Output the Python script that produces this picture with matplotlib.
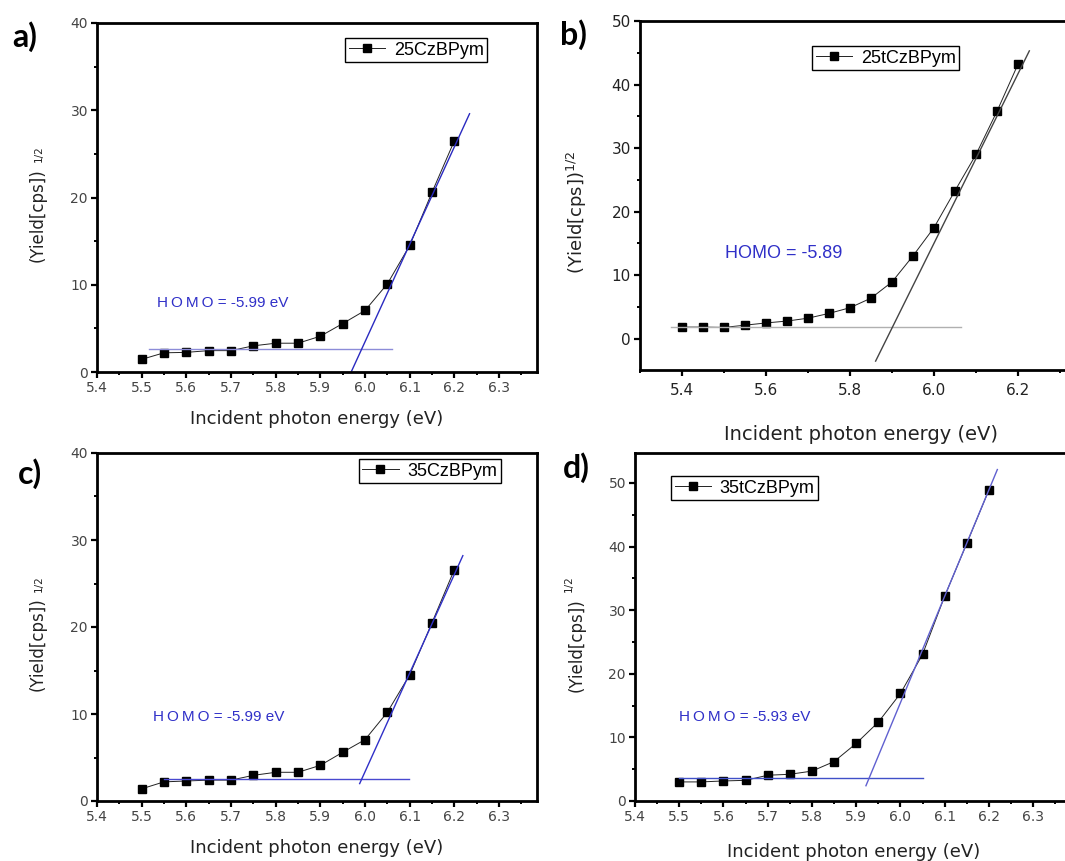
import matplotlib
matplotlib.use('Agg')
import matplotlib.pyplot as plt
from matplotlib.ticker import MultipleLocator, FormatStrFormatter

plt.rcParams['font.family'] = ['Liberation Sans', 'DejaVu Sans']
plt.rcParams['mathtext.fontset'] = 'dejavusans'

# photon energies (eV)
energy = [5.50, 5.55, 5.60, 5.65, 5.70, 5.75, 5.80, 5.85, 5.90, 5.95, 6.00, 6.05, 6.10, 6.15, 6.20]
energy_b = [5.40, 5.45, 5.50, 5.55, 5.60, 5.65, 5.70, 5.75, 5.80, 5.85, 5.90, 5.95, 6.00, 6.05, 6.10, 6.15, 6.20]

# (yield)^1/2 for each compound
yield_a = [1.45, 2.2, 2.25, 2.45, 2.45, 3.0, 3.3, 3.3, 4.1, 5.55, 7.05, 10.1, 14.5, 20.6, 26.5]
yield_b = [1.85, 1.85, 1.8, 2.15, 2.5, 2.8, 3.25, 4.0, 4.9, 6.4, 8.95, 13.05, 17.5, 23.3, 29.0, 35.8, 43.2]
yield_c = [1.4, 2.2, 2.3, 2.4, 2.4, 2.95, 3.3, 3.3, 4.1, 5.6, 7.05, 10.2, 14.5, 20.5, 26.6]
yield_d = [3.0, 3.0, 3.15, 3.25, 4.05, 4.2, 4.7, 6.2, 9.05, 12.4, 16.9, 23.05, 32.2, 40.5, 48.9]

names = ['25CzBPym', '25tCzBPym', '35CzBPym', '35tCzBPym']
homo_labels = ['H\u2009O\u2009M\u2009O = -5.99 eV', 'HOMO = -5.89',
               'H\u2009O\u2009M\u2009O = -5.99 eV', 'H\u2009O\u2009M\u2009O = -5.93 eV']

# background (flat) lines and onset fit lines
base_x = [[5.517, 6.061], [5.374, 6.065], [5.55, 6.098], [5.50, 6.05]]
base_y = [2.6, 1.9, 2.5, 3.55]
fit_x = [[5.969, 6.234], [5.861, 6.227], [5.988, 6.219], [5.922, 6.219]]
fit_y = [[0.0, 29.6], [-3.5, 45.3], [2.0, 28.2], [2.4, 52.1]]

W, H = 1065, 861
fig = plt.figure(figsize=(W / 100, H / 100), dpi=100)


def px_axes(left, top, right, bottom):
    return fig.add_axes([left / W, 1 - bottom / H, (right - left) / W, (bottom - top) / H])


def fig_text(px, py, s, **kw):
    fig.text(px / W, 1 - py / H, s, ha='center', va='center', **kw)


def draw_panel(ax, x, y, i, xlim, ylim, xmaj, tick_color, tick_size, tick_pad, line_colors,
               leg_anchor, homo_xy, homo_size, xlabel_size, xlabelpad):
    ax.plot(x, y, '-s', color='#222222', lw=0.7, ms=5.5, mfc='black', mec='black', label=names[i])
    ax.plot(base_x[i], [base_y[i], base_y[i]], color=line_colors[0], lw=1.0)
    ax.plot(fit_x[i], fit_y[i], color=line_colors[1], lw=1.0)
    ax.set_xlim(*xlim)
    ax.set_ylim(*ylim)
    ax.xaxis.set_major_locator(MultipleLocator(xmaj))
    ax.xaxis.set_minor_locator(MultipleLocator(xmaj / 2))
    ax.yaxis.set_major_locator(MultipleLocator(10))
    ax.yaxis.set_minor_locator(MultipleLocator(5))
    ax.xaxis.set_major_formatter(FormatStrFormatter('%.1f'))
    for s in ax.spines.values():
        s.set_linewidth(2.0)
    ax.tick_params(which='major', direction='out', length=4.5, width=1.6, labelsize=tick_size,
                   labelcolor=tick_color, pad=2)
    ax.tick_params(axis='x', which='major', pad=tick_pad)
    ax.tick_params(which='minor', direction='out', length=2.5, width=1.4)
    for lab in ax.get_xticklabels() + ax.get_yticklabels():
        lab.set_family('DejaVu Sans')
    ax.set_xlabel('Incident photon energy (eV)', fontsize=xlabel_size, labelpad=xlabelpad,
                  color='#222222', family='DejaVu Sans')
    ax.text(homo_xy[0], homo_xy[1], homo_labels[i], color='#3030c8', fontsize=homo_size, va='center')
    ax.legend(loc='upper left', bbox_to_anchor=leg_anchor, borderaxespad=0, fontsize=13,
              frameon=True, fancybox=False, edgecolor='black', framealpha=1,
              handlelength=2.0, handletextpad=0.5, borderpad=0.2)


ax_a = px_axes(97, 23, 537, 372)
draw_panel(ax_a, energy, yield_a, 0, (5.4, 6.385), (0, 40), 0.1, '#444444', 10, 2,
           ('#8c8cd8', '#2a2ac0'), (0.564, 0.957), (5.534, 7.9), 11, 13, 11)

ax_b = px_axes(640, 21, 1081, 370)
draw_panel(ax_b, energy_b, yield_b, 1, (5.3, 6.35), (-4.9, 50), 0.2, '#222222', 11, 5,
           ('#b0b0b0', '#444444'), (0.39, 0.928), (5.503, 13.4), 13, 14, 19)

ax_c = px_axes(97, 453, 537, 801)
draw_panel(ax_c, energy, yield_c, 2, (5.4, 6.385), (0, 40), 0.1, '#444444', 10, 2,
           ('#4848d0', '#3030c8'), (0.595, 0.983), (5.525, 9.6), 11, 13, 11)

ax_d = px_axes(635, 453, 1073, 801)
draw_panel(ax_d, energy, yield_d, 3, (5.4, 6.39), (0, 54.7), 0.1, '#444444', 10, 2,
           ('#4050c8', '#6060d0'), (0.082, 0.934), (5.5, 13.2), 11, 13, 14)

# y axis labels, placed in figure pixels
ylab_kw = dict(rotation=90, family='DejaVu Sans', color='#222222')
fig_text(38, 215, '(Yield[cps])', fontsize=12, **ylab_kw)
fig_text(39, 154, '1/2', fontsize=7.5, **ylab_kw)
fig_text(38, 644, '(Yield[cps])', fontsize=12, **ylab_kw)
fig_text(39, 584, '1/2', fontsize=7.5, **ylab_kw)
fig_text(577, 645, '(Yield[cps])', fontsize=12, **ylab_kw)
fig_text(569, 584, '1/2', fontsize=7.5, **ylab_kw)
fig_text(577, 212, r'(Yield[cps])$^{1/2}$', fontsize=13, **ylab_kw)

for lab, (px, py) in zip(['a)', 'b)', 'c)', 'd)'], [(25, 37), (573, 35), (30, 474), (576, 468)]):
    fig_text(px, py, lab, fontsize=23, fontweight='bold', family='Lato')

plt.savefig('out.png', dpi=100)
plt.close()
